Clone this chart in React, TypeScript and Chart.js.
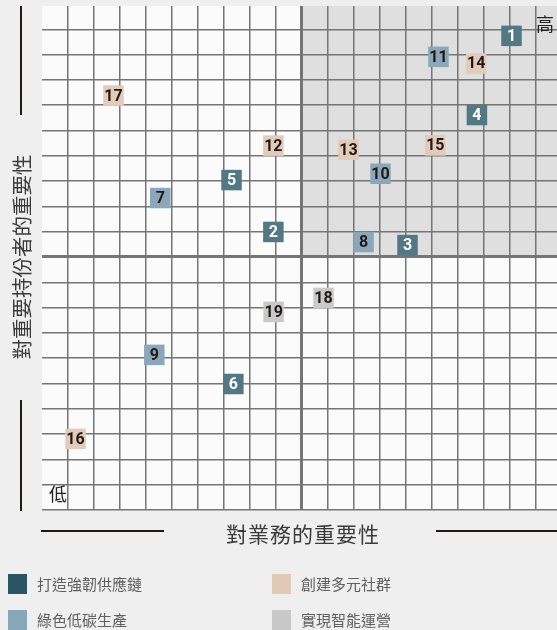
import React, { useEffect, useRef } from "react";
import { Chart, registerables } from "chart.js";
Chart.register(...registerables);

const categories = ["打造強韌供應鏈", "綠色低碳生產", "創建多元社群", "實現智能運營"];
const pointColors = ["#527883", "#8aa8b9", "#e2cbb8", "#c9c9c9"];
const legendColors = ["#2b5563", "#87a6b8", "#e0c9b5", "#c8c8c8"];
const labelColors = ["#ffffff", "#231815", "#231815", "#231815"];

const supplyIds = [1, 2, 3, 4, 5, 6];
const supplyX = [18.06, 8.9, 14.06, 16.73, 7.29, 7.36];
const supplyY = [18.74, 10.99, 10.47, 15.61, 13.04, 4.98];

const greenIds = [7, 8, 9, 10, 11];
const greenX = [4.55, 12.37, 4.32, 13.02, 15.25];
const greenY = [12.33, 10.59, 6.13, 13.29, 17.91];

const communityIds = [12, 13, 14, 15, 16, 17];
const communityX = [8.9, 11.79, 16.7, 15.13, 1.29, 2.75];
const communityY = [14.4, 14.24, 17.65, 14.41, 2.81, 16.38];

const smartIds = [18, 19];
const smartX = [10.83, 8.91];
const smartY = [8.38, 7.83];

const X_MIN = 0;
const X_MAX = 19.81;
const X_MID = 10;
const Y_MIN = 0;
const Y_MAX = 19.92;
const Y_MID = 10;
const xGridValues = [0, 1, 2, 3, 4, 5, 6, 7, 8, 9, 10, 11, 12, 13, 14, 15, 16, 17, 18, 19];
const yGridValues = [0, 1, 2, 3, 4, 5, 6, 7, 8, 9, 10, 11, 12, 13, 14, 15, 16, 17, 18, 19];

const xTitle = "對業務的重要性";
const yTitle = "對重要持份者的重要性";
const highLabel = "高";
const lowLabel = "低";

const CJK = '"Noto Sans CJK TC", "Noto Sans CJK SC", sans-serif';

const groups = [
  { ids: supplyIds, xs: supplyX, ys: supplyY },
  { ids: greenIds, xs: greenX, ys: greenY },
  { ids: communityIds, xs: communityX, ys: communityY },
  { ids: smartIds, xs: smartX, ys: smartY },
];

const bgPlugin = {
  id: "bgPlugin",
  beforeDraw(chart: any) {
    const { ctx, chartArea, scales } = chart;
    const x = scales.x;
    const y = scales.y;
    ctx.save();
    ctx.fillStyle = "#fbfbfb";
    ctx.fillRect(chartArea.left, chartArea.top, chartArea.right - chartArea.left, chartArea.bottom - chartArea.top);
    const qx = x.getPixelForValue(X_MID);
    const qy = y.getPixelForValue(Y_MID);
    ctx.fillStyle = "#dedfde";
    ctx.fillRect(qx, chartArea.top, chartArea.right - qx, qy - chartArea.top);
    ctx.restore();
  },
};

const labelPlugin = {
  id: "labelPlugin",
  afterDatasetsDraw(chart: any) {
    const { ctx } = chart;
    ctx.save();
    ctx.font = 'bold 16px "Liberation Sans Narrow", Roboto, "Liberation Sans", sans-serif';
    ctx.textAlign = "center";
    ctx.textBaseline = "middle";
    chart.data.datasets.forEach((ds: any, di: number) => {
      const meta = chart.getDatasetMeta(di);
      ctx.fillStyle = labelColors[di];
      meta.data.forEach((pt: any, i: number) => {
        ctx.fillText(String(ds.ids[i]), pt.x, pt.y + 1);
      });
    });
    ctx.restore();
  },
};

export default function App() {
  const ref = useRef<HTMLCanvasElement | null>(null);

  useEffect(() => {
    document.body.style.margin = "0";
    document.body.style.overflow = "hidden";
    if (!ref.current) return;
    const chart = new Chart(ref.current, {
      type: "scatter",
      data: {
        datasets: groups.map((g, gi) => ({
          label: categories[gi],
          ids: g.ids,
          data: g.xs.map((xv, i) => ({ x: xv, y: g.ys[i] })),
          backgroundColor: pointColors[gi],
          borderWidth: 0,
          pointStyle: "rect",
          pointRadius: 14.5,
          pointHoverRadius: 14.5,
          clip: false,
        })) as any,
      },
      options: {
        responsive: false,
        animation: false,
        events: [],
        layout: { autoPadding: false, padding: { left: 42, top: 6, right: 0, bottom: 120 } },
        plugins: { legend: { display: false }, tooltip: { enabled: false } },
        scales: {
          x: {
            type: "linear",
            min: X_MIN,
            max: X_MAX,
            border: { display: false },
            afterBuildTicks: (s: any) => {
              s.ticks = xGridValues.map((v) => ({ value: v }));
            },
            ticks: { display: false },
            grid: {
              drawTicks: false,
              color: (c: any) => (c.tick && c.tick.value === 0 ? "rgba(0,0,0,0)" : "#757575"),
              lineWidth: (c: any) => (c.tick && c.tick.value === X_MID ? 3 : 1.5),
            },
          },
          y: {
            type: "linear",
            min: Y_MIN,
            max: Y_MAX,
            border: { display: false },
            afterBuildTicks: (s: any) => {
              s.ticks = yGridValues.map((v) => ({ value: v }));
            },
            ticks: { display: false },
            grid: {
              drawTicks: false,
              color: "#757575",
              lineWidth: (c: any) => (c.tick && c.tick.value === Y_MID ? 3 : 1.5),
            },
          },
        },
      } as any,
      plugins: [bgPlugin, labelPlugin],
    });
    return () => chart.destroy();
  }, []);

  const legendItems = [
    { i: 0, left: 8, top: 574 },
    { i: 2, left: 272, top: 574 },
    { i: 1, left: 8, top: 610 },
    { i: 3, left: 272, top: 610 },
  ];

  return (
    <div
      style={{
        position: "fixed",
        left: 0,
        top: 0,
        width: 557,
        height: 630,
        background: "#eeefee",
        overflow: "hidden",
        fontFamily: CJK,
      }}
    >
      <canvas ref={ref} width={557} height={630} style={{ position: "absolute", left: 0, top: 0 }} />
      <div style={{ position: "absolute", left: 20, top: 6, width: 2, height: 109, background: "#231815" }} />
      <div style={{ position: "absolute", left: 20, top: 400, width: 2, height: 111, background: "#231815" }} />
      <div
        style={{
          position: "absolute",
          left: 21,
          top: 257,
          transform: "translate(-50%, -50%) rotate(-90deg)",
          whiteSpace: "nowrap",
          fontSize: 20.5,
          lineHeight: "22px",
          color: "#3a3a3a",
        }}
      >
        {yTitle}
      </div>
      <div style={{ position: "absolute", left: 41, top: 530, width: 123, height: 2, background: "#231815" }} />
      <div style={{ position: "absolute", left: 436, top: 530, width: 121, height: 2, background: "#231815" }} />
      <div
        style={{
          position: "absolute",
          left: 303,
          top: 533,
          transform: "translate(-50%, -50%)",
          whiteSpace: "nowrap",
          fontSize: 21,
          letterSpacing: 1,
          lineHeight: "24px",
          color: "#3a3a3a",
        }}
      >
        {xTitle}
      </div>
      <div
        style={{
          position: "absolute",
          left: 545,
          top: 23,
          transform: "translate(-50%, -50%)",
          fontSize: 18,
          lineHeight: "20px",
          color: "#222",
        }}
      >
        {highLabel}
      </div>
      <div
        style={{
          position: "absolute",
          left: 58,
          top: 493,
          transform: "translate(-50%, -50%)",
          fontSize: 18,
          lineHeight: "20px",
          color: "#222",
        }}
      >
        {lowLabel}
      </div>
      {legendItems.map((it) => (
        <div key={it.i}>
          <div
            style={{
              position: "absolute",
              left: it.left,
              top: it.top,
              width: 19,
              height: 20,
              background: legendColors[it.i],
            }}
          />
          <div
            style={{
              position: "absolute",
              left: it.left + 29,
              top: it.top + 10,
              transform: "translateY(-50%)",
              fontSize: 15,
              lineHeight: "18px",
              whiteSpace: "nowrap",
              color: "#606060",
            }}
          >
            {categories[it.i]}
          </div>
        </div>
      ))}
    </div>
  );
}
